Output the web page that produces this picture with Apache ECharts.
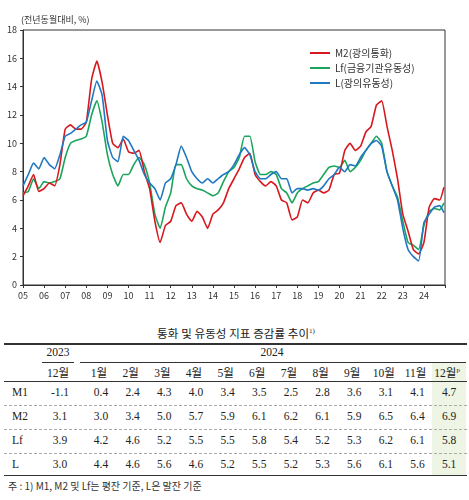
<!DOCTYPE html>
<html><head><meta charset="utf-8">
<script src="https://cdn.jsdelivr.net/npm/echarts@6/dist/echarts.min.js"></script>
<style>
body{margin:0;background:#fff;width:469px;height:500px;overflow:hidden;position:relative;font-family:"Liberation Serif","Noto Sans CJK KR",serif;}
#c{position:absolute;left:0;top:0;width:469px;height:302px;}
.t{position:absolute;font-size:11.5px;color:#222;white-space:nowrap;transform:translateX(-50%);}
.ln{position:absolute;background:#333;}
</style></head><body>
<div id="c"></div>
<div id="tbl"></div>
<script>
const yearStart = 2005;
const m2 = [6.3,7.0,7.8,6.6, 6.8,7.2,7.0,8.5, 11.0,11.3,11.0,11.0, 11.5,14.5,15.8,14.3, 12.0,10.0,9.7,10.3, 9.4,9.3,9.5,8.0, 6.8,4.5,3.0,4.2, 4.5,5.6,5.8,5.0, 4.5,5.2,4.8,4.0, 5.0,5.3,5.8,6.8, 7.5,8.2,9.0,9.3, 7.8,7.3,7.0,7.3, 7.0,6.0,5.8,4.6, 4.8,6.0,5.8,6.5, 6.7,6.5,6.7,7.8, 7.9,9.5,10.0,9.5, 9.8,10.8,11.2,12.7, 13.0,11.2,9.5,7.5, 5.0,3.8,2.5,2.2, 3.0,5.5,6.1,6.0,6.9];
const lf = [6.5,6.6,7.5,6.8, 7.3,7.2,7.3,7.5, 9.0,10.0,10.2,10.3, 10.5,12.0,13.0,11.5, 9.2,7.8,7.0,7.8, 7.8,8.5,9.0,8.5, 7.2,5.0,4.0,5.5, 6.5,8.5,8.5,7.5, 7.0,6.8,6.7,6.5, 6.3,6.5,7.3,8.0, 8.3,9.0,10.5,10.5, 8.7,7.8,7.8,8.0, 7.8,6.8,6.5,5.8, 6.5,6.8,7.0,7.2, 7.3,7.8,8.3,8.4, 8.3,8.8,8.0,8.3, 8.8,9.5,10.0,10.5, 10.0,8.0,7.0,6.2, 4.5,3.0,2.8,2.5, 4.2,5.2,5.4,5.3,5.8];
const lL = [7.0,7.8,8.6,8.2, 9.0,8.5,8.2,9.2, 10.5,10.7,11.0,11.3, 11.5,13.0,14.4,13.4, 10.2,9.0,8.7,10.5, 10.2,9.5,8.8,7.8, 7.2,6.8,6.0,7.2, 7.5,8.5,9.8,9.0, 8.0,7.5,7.2,7.5, 7.2,7.5,7.8,8.0, 8.5,9.2,9.7,9.2, 8.0,7.5,7.5,7.8, 8.0,7.5,7.5,6.5, 6.8,6.8,6.7,6.8, 6.7,7.0,7.5,7.8, 8.3,8.0,8.5,8.4, 9.0,9.5,10.0,10.2, 9.8,8.0,7.0,6.0, 4.0,2.5,2.0,1.7, 4.4,5.0,5.5,5.6,5.1];
const seriesNames = ['M2(광의통화)','Lf(금융기관유동성)','L(광의유동성)'];
const tableCols = ['1월','2월','3월','4월','5월','6월','7월','8월','9월','10월','11월','12월'];
const rowNames = ['M1','M2','Lf','L'];
const dec2023 = ['-1.1','3.1','3.9','3.0'];
const m1_2024 = ['0.4','2.4','4.3','4.0','3.4','3.5','2.5','2.8','3.6','3.1','4.1','4.7'];
const m2_2024 = ['3.0','3.4','5.0','5.7','5.9','6.1','6.2','6.1','5.9','6.5','6.4','6.9'];
const lf_2024 = ['4.2','4.6','5.2','5.5','5.5','5.8','5.4','5.2','5.3','6.2','6.1','5.8'];
const l_2024 = ['4.4','4.6','5.6','4.6','5.2','5.5','5.2','5.3','5.6','6.1','5.6','5.1'];

function pts(a){return a.map((v,i)=>[yearStart + (i===a.length-1 ? 19.95 : i*0.25), v]);}
const chart = echarts.init(document.getElementById('c'));
const cols = ['#d7191f','#1aa55a','#1f78c1'];
chart.setOption({
  animation:false,
  textStyle:{fontFamily:'"Noto Sans CJK KR",sans-serif'},
  grid:{left:23,right:24,top:30,bottom:17},
  legend:{orient:'vertical',left:305,top:43,itemGap:5,itemWidth:20,itemHeight:2,icon:'rect',
    textStyle:{fontSize:10,color:'#333'},data:seriesNames},
  xAxis:{type:'value',min:2005,max:2025,interval:1,
    axisLine:{lineStyle:{color:'#333'}},axisTick:{show:true,length:3,inside:false,lineStyle:{color:'#333'}},
    splitLine:{show:false},
    axisLabel:{fontSize:9,color:'#333',margin:6,formatter:v=>v>=2025?'':String(v).slice(2)}},
  yAxis:{type:'value',min:0,max:18,interval:2,name:'(전년동월대비, %)',nameGap:6,
    nameTextStyle:{fontSize:9,color:'#333',align:'left',padding:[0,0,0,-2]},
    axisLine:{show:true,lineStyle:{color:'#333'}},axisTick:{show:true,length:3,lineStyle:{color:'#333'}},
    splitLine:{show:false},axisLabel:{fontSize:9,color:'#333',margin:6}},
  series:[
    {name:seriesNames[0],type:'line',data:pts(m2),showSymbol:false,smooth:0.15,z:3,lineStyle:{width:1.6,color:cols[0]},itemStyle:{color:cols[0]}},
    {name:seriesNames[1],type:'line',data:pts(lf),showSymbol:false,smooth:0.15,z:2,lineStyle:{width:1.6,color:cols[1]},itemStyle:{color:cols[1]}},
    {name:seriesNames[2],type:'line',data:pts(lL),showSymbol:false,smooth:0.15,z:4,lineStyle:{width:1.6,color:cols[2]},itemStyle:{color:cols[2]}}
  ],
  graphic:[{type:'rect',shape:{x:23,y:30,width:422,height:255},style:{fill:'none',stroke:'#333',lineWidth:1},silent:true}]
});

const T = document.getElementById('tbl');
function add(html){T.insertAdjacentHTML('beforeend',html);}
function txt(s,x,y,extra){add(`<div class="t" style="left:${x}px;top:${y}px;${extra||''}">${s}</div>`);}
function line(x,y,w,h,extra){add(`<div class="ln" style="left:${x}px;top:${y}px;width:${w}px;height:${h}px;${extra||''}"></div>`);}
add('<div style="position:absolute;left:432px;top:362px;width:34px;height:113px;background:#eef5e4"></div>');
txt('통화 및 유동성 지표 증감률 추이<sup style="font-size:7px">1)</sup>',236,325,'font-family:"Noto Sans CJK KR";font-weight:700;font-size:12px;text-decoration:underline;letter-spacing:1.5px;color:#111');
line(4,343,463,2);
txt('2023',58,346);txt('2024',272,346);
line(42,362,32,1);line(80,362,386,1);
const colX = tableCols.map((c,i)=>99+i*31.65);
txt('12월',58,364);
tableCols.forEach((c,i)=>txt(c+(i===11?'<sup style="font-size:7px">p</sup>':''),colX[i],364));
line(4,381,463,1);
const rows=[m1_2024,m2_2024,lf_2024,l_2024];
const rowY=[386,410,434,458];
rowNames.forEach((r,k)=>{
  add(`<div class="t" style="left:12px;top:${rowY[k]}px;transform:none">${r}</div>`);
  txt(dec2023[k],60,rowY[k]);
  rows[k].forEach((v,i)=>txt(v,colX[i]+2,rowY[k]));
  if(k<3) line(4,rowY[k]+19,463,0,'background:none;border-top:1px dashed #aaa');
});
line(4,475,463,1);
add('<div style="position:absolute;left:8px;top:478px;font-size:10px;color:#333;font-family:\'Noto Sans CJK KR\'">주 : 1) M1, M2 및 Lf는 평잔 기준, L은 말잔 기준</div>');
</script></body></html>
